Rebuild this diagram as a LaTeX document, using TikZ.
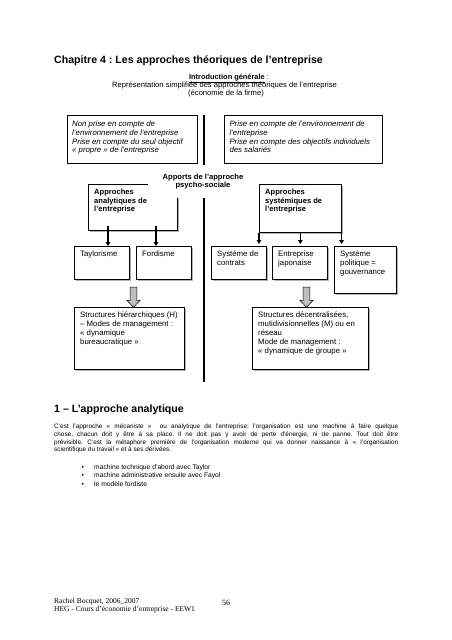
\documentclass[tikz,border=0pt]{standalone}
\usepackage{fontspec}
\setmainfont{Liberation Sans}
\newfontfamily\seriffont{Liberation Serif}
\usetikzlibrary{shadows,arrows.meta,calc}

\begin{document}
\frenchspacing
\begin{tikzpicture}[x=1pt,y=-1pt,
  frame/.style={draw=black, fill=white, line width=0.6pt, anchor=north west, inner sep=0pt},
  sframe/.style={frame, drop shadow={shadow xshift=1.2pt, shadow yshift=-1.2pt, fill=gray!60, opacity=1}},
  txt/.style={anchor=north west, inner sep=0pt, align=left, font=\fontsize{7.8}{8.8}\selectfont},
  itxt/.style={txt, font=\itshape\fontsize{7.8}{8.7}\selectfont},
  btxt/.style={txt, font=\bfseries\fontsize{7.6}{8.6}\selectfont},
  conn/.style={line width=1.1pt, -{Triangle[length=4pt,width=4.6pt]}},
  barrow/.style={draw=black, fill=gray!50, line width=0.5pt, line join=miter},
  plain/.style={inner sep=0pt}
]
\useasboundingbox (0,0) rectangle (452,640);
\fill[white] (0,0) rectangle (452,640);

% titles
\node[plain, anchor=west, font=\bfseries\fontsize{10.6}{12}\selectfont] (title) at (54,60.8)
  {Chapitre 4 : Les approches théoriques de l’entreprise};
\node[plain, anchor=base, font=\bfseries\fontsize{7.4}{8.5}\selectfont] (intro) at (229,79.2)
  {\underline{Introduction générale}\mdseries\ :};
\node[plain, anchor=base, font=\fontsize{7.6}{8.6}\selectfont] (repr) at (224.5,87.6)
  {Représentation simplifiée des approches théoriques de l’entreprise};
\node[plain, anchor=base, font=\fontsize{7.6}{8.6}\selectfont] (econ) at (226,95)
  {(économie de la firme)};

% vertical separator
\coordinate (vt) at (204,115);
\coordinate (vb) at (204,382);
\draw[line width=1.3pt] (vt) -- (vb);

% top boxes
\node[frame, minimum width=130.3pt, minimum height=48pt] (tl) at (66.7,115) {};
\node[itxt] (tltext) at ($(tl.north west)+(5.3,5.8)$)
  {Non prise en compte de\\l’environnement de l’entreprise\\Prise en compte du seul objectif\\«~propre~» de l’entreprise};
\node[frame, minimum width=158pt, minimum height=48pt] (tr) at (224,115) {};
\node[itxt] (trtext) at ($(tr.north west)+(5.3,5.8)$)
  {Prise en compte de l’environnement de\\l’entreprise\\Prise en compte des objectifs individuels\\des salariés};

% analytic box
\node[sframe, minimum width=89pt, minimum height=46pt] (an) at (88,184) {};

% psycho-social label
\node[fill=white, inner sep=0pt, minimum width=110pt, minimum height=33pt, align=center,
  font=\bfseries\fontsize{7.6}{8.9}\selectfont] (ap) at (203,181.5)
  {Apports de l’approche\\psycho-sociale};
\node[btxt] (antext) at ($(an.north west)+(6,5)$)
  {Approches\\analytiques de\\l’entreprise};

% systemic box
\node[sframe, minimum width=82pt, minimum height=48pt] (sy) at (259,184) {};
\node[btxt] (sytext) at ($(sy.north west)+(6,5)$)
  {Approches\\systémiques de\\l’entreprise};

% small boxes
\node[sframe, minimum width=55pt, minimum height=33pt] (ta) at (74,246) {};
\node[txt] at ($(ta.north west)+(6,5)$) {Taylorisme};
\node[sframe, minimum width=55pt, minimum height=33pt] (fo) at (136,246) {};
\node[txt] at ($(fo.north west)+(6,5)$) {Fordisme};
\node[sframe, minimum width=55pt, minimum height=33pt] (co) at (211,246) {};
\node[txt] at ($(co.north west)+(6,5)$) {Système de\\contrats};
\node[sframe, minimum width=55pt, minimum height=33pt] (ja) at (272,246) {};
\node[txt] at ($(ja.north west)+(6,5)$) {Entreprise\\japonaise};
\node[sframe, minimum width=62pt, minimum height=47pt] (po) at (334,246) {};
\node[txt] at ($(po.north west)+(6,5)$) {Système\\politique =\\gouvernance};

% connectors
\draw[conn] ([xshift=20pt,yshift=5pt]an.south west) -- ([xshift=20pt]an.south west |- ta.north);
\draw[conn] ([xshift=68pt,yshift=5pt]an.south west) -- ([xshift=68pt]an.south west |- fo.north);
\draw[conn, shorten >=2pt] (sy.south west) -- (sy.south west |- co.north);
\draw[conn, shorten >=2pt] (sy.south) -- (sy.south |- ja.north);
\draw[conn, shorten >=2pt] (sy.south east) -- (sy.south east |- po.north);

% structure boxes
\node[sframe, minimum width=110pt, minimum height=62pt] (sl) at (74,307) {};
\node[txt, font=\fontsize{7.8}{9}\selectfont] at ($(sl.north west)+(6,4.5)$)
  {Structures hiérarchiques (H)\\– Modes de management :\\«~dynamique\\bureaucratique~»};
\node[sframe, minimum width=116pt, minimum height=62pt] (sr) at (252,307) {};
\node[txt, font=\fontsize{7.8}{9}\selectfont] at ($(sr.north west)+(6,4.5)$)
  {Structures décentralisées,\\mutidivisionnelles (M) ou en\\réseau\\Mode de management :\\«~dynamique de groupe~»};

% block arrows (drawn shapes)
\foreach \bx in {133.5,306.5}{
  \draw[barrow] (\bx-3.3,287) -- (\bx+3.3,287) -- (\bx+3.3,300.3) -- (\bx+6.6,300.3)
    -- (\bx,307.3) -- (\bx-6.6,300.3) -- (\bx-3.3,300.3) -- cycle;
}

% section
\node[plain, anchor=west, font=\bfseries\fontsize{10.6}{12}\selectfont] (sec) at (54,409.3)
  {1 – L’approche analytique};
\node[plain, anchor=north west, align=left, font=\fontsize{6.4}{7.8}\selectfont] (para) at (54,423.5)
  {\makebox[344pt][s]{C’est l’approche «~mécaniste~»\ \ ou analytique de l’entreprise: l’organisation est une machine à faire quelque}\\
   \makebox[344pt][s]{chose, chacun doit y être à sa place. Il ne doit pas y avoir de perte d’énergie, ni de panne. Tout doit être}\\
   \makebox[344pt][s]{prévisible. C’est la métaphore première de l’organisation moderne qui va donner naissance à «~l’organisation}\\
   scientifique du travail~» et à ses dérivées.};

\node[plain, anchor=west, font=\fontsize{6.7}{8}\selectfont] (b1) at (81.5,467.3)
  {\makebox[12.5pt][l]{•}machine technique d’abord avec Taylor};
\node[plain, anchor=west, font=\fontsize{6.7}{8}\selectfont] (b2) at (81.5,475.8)
  {\makebox[12.5pt][l]{•}machine administrative ensuite avec Fayol};
\node[plain, anchor=west, font=\fontsize{6.7}{8}\selectfont] (b3) at (81.5,484.2)
  {\makebox[12.5pt][l]{•}le modèle fordiste};

% footer
\node[plain, anchor=west, font=\seriffont\fontsize{7.5}{8.5}\selectfont] (f1) at (54,601.7)
  {Rachel Bocquet, 2006\_2007};
\node[plain, anchor=west, font=\seriffont\fontsize{7.5}{8.5}\selectfont] (f2) at (54,609.5)
  {HEG - Cours d’économie d’entreprise - EEW1};
\node[plain, font=\seriffont\fontsize{8}{9}\selectfont] (pg) at (226,602.5) {56};
\end{tikzpicture}
\end{document}
